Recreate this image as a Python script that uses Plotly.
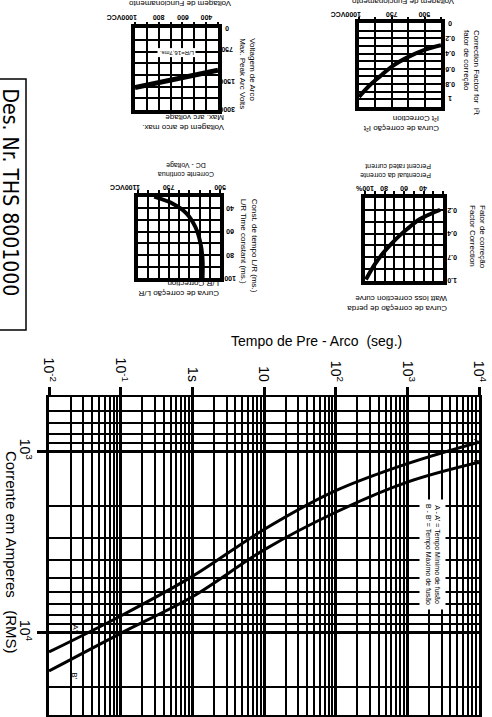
import numpy as np
import plotly.graph_objects as go

W, H = 492, 717
FONT = "Liberation Sans, Arial, Helvetica, sans-serif"
NARROW = "Liberation Sans Narrow, DejaVu Sans Condensed, Liberation Sans, Arial"

# ---- main chart: pre-arcing time vs current ----
TIME_S = [0.01, 0.1, 1, 10, 100, 1000, 10000]
CURVE_A_AMPS = [12800, 8100, 4900, 2700, 1650, 1170, 890]
CURVE_B_AMPS = [16300, 10100, 6350, 3500, 2170, 1480, 1150]
TIME_TICKS = [0.01, 0.1, 1, 10, 100, 1000, 10000]
TIME_TICK_TEXT = ["10<sup>-2</sup>", "10<sup>-1</sup>", "1s", "10",
                  "10<sup>2</sup>", "10<sup>3</sup>", "10<sup>4</sup>"]
AMP_TICKS = [1000, 10000]
AMP_TICK_TEXT = ["10<sup>3</sup>", "10<sup>4</sup>"]
AMP_RANGE = [500, 28500]
LEGEND_TEXT = "A - A' = Tempo Mínimo de fusão<br>B - B' = Tempo Máximo de fusão"

# ---- inset 1: max. arc voltage ----
ARC_X_TICKS = [1000, 800, 600, 400]
ARC_X_TEXT = ["1000VCC", "800", "600", "400"]
ARC_Y_TICKS = [0, 750, 1500, 3000]
ARC_Y_TEXT = ["0", "750", "1500", "3000"]
ARC_Y_ROWS = [0, 1.8, 4.5, 7]
ARC_LINE_V = [1000, 300]
ARC_LINE_PEAK = [1850, 1250]

# ---- inset 2: I2t correction ----
I2T_X_TICKS = [1000, 750, 500]
I2T_X_TEXT = ["1000VCC", "750", "500"]
I2T_Y_TICKS = [0, 0.2, 0.4, 0.6, 0.8, 1]
I2T_Y_TEXT = ["0", "0.2", "0.4", "0.6", "0.8", "1"]
I2T_V = [1000, 920, 840, 750, 620, 500, 375]
I2T_F = [0.97, 0.82, 0.70, 0.57, 0.44, 0.35, 0.29]

# ---- inset 3: L/R correction ----
LR_X_TICKS = [1100, 750, 500]
LR_X_TEXT = ["1100VCC", "750", "500"]
LR_X_COLS = [0, 3, 8]
LR_Y_TICKS = [40, 60, 80, 100]
LR_V = [915, 730, 665, 620, 595, 585, 585]
LR_MS = [30, 36, 44, 56, 70, 84, 100]

# ---- inset 4: watt loss correction ----
WL_X_TICKS = [100, 80, 60, 40]
WL_X_TEXT = ["100%", "80", "60", "40"]
WL_Y_TICKS = [0.2, 0.4, 0.7, 1.0]
WL_Y_TEXT = ["0.2", "0.4", "0.7", "1.0"]
WL_Y_ROWS = [1, 3, 5, 7]
WL_PCT = [99, 90, 81, 73, 64, 55, 46, 37, 29, 23]
WL_F = [0.98, 0.79, 0.64, 0.53, 0.42, 0.35, 0.29, 0.25, 0.22, 0.20]


def to_div(vals, ticks, divs):
    # piecewise scale of the hand-drawn inset axes
    order = np.argsort(ticks)
    return np.interp(vals, np.array(ticks, float)[order], np.array(divs, float)[order])


def px_x(px):
    return px / W


def px_y(py):
    return 1 - py / H


def font(size, bold=False, family=FONT):
    return dict(family=family, size=size, color="black", weight="bold" if bold else "normal")


def note(text, px, py, size=8, angle=0, xanchor="center", yanchor="middle", align="center", family=FONT, **kw):
    return dict(text=text, x=px_x(px), y=px_y(py), xref="paper", yref="paper", showarrow=False,
                textangle=angle, xanchor=xanchor, yanchor=yanchor, align=align, font=font(size, family=family), **kw)


fig = go.Figure()

# main curves
for amps in (CURVE_A_AMPS, CURVE_B_AMPS):
    fig.add_trace(go.Scatter(x=TIME_S, y=amps, mode="lines", line=dict(color="black", width=3, shape="spline"),
                             xaxis="x", yaxis="y", hoverinfo="skip"))

# inset curves
fig.add_trace(go.Scatter(x=ARC_LINE_V, y=to_div(ARC_LINE_PEAK, ARC_Y_TICKS, ARC_Y_ROWS), mode="lines",
                         line=dict(color="black", width=5), xaxis="x2", yaxis="y2"))
fig.add_trace(go.Scatter(x=I2T_V, y=I2T_F, mode="lines", line=dict(color="black", width=4, shape="spline"),
                         xaxis="x3", yaxis="y3"))
fig.add_trace(go.Scatter(x=to_div(LR_V, LR_X_TICKS, LR_X_COLS), y=LR_MS, mode="lines",
                         line=dict(color="black", width=4, shape="spline"), xaxis="x4", yaxis="y4"))
fig.add_trace(go.Scatter(x=WL_PCT, y=to_div(WL_F, WL_Y_TICKS, WL_Y_ROWS), mode="lines",
                         line=dict(color="black", width=4, shape="spline"), xaxis="x5", yaxis="y5"))

time_minor = [k * 10.0 ** e for e in range(-2, 4) for k in range(2, 10)]
amp_minor = [k * 100 for k in range(5, 10)] + [k * 1000 for k in range(2, 10)] + [20000]

grid_main = dict(showgrid=True, gridcolor="black", zeroline=False, fixedrange=True, tickcolor="black")

layout = dict(
    width=W, height=H, template="none",
    margin=dict(l=0, r=0, t=0, b=0),
    paper_bgcolor="white", plot_bgcolor="white", showlegend=False,
    xaxis=dict(type="log", domain=[px_x(49), px_x(479)], range=[-2, 4], anchor="y", side="top",
               tickvals=TIME_TICKS, ticktext=TIME_TICK_TEXT, tickangle=90, tickfont=font(14),
               ticks="outside", ticklen=8, tickwidth=3.2, gridwidth=3.2,
               minor=dict(tickvals=time_minor, showgrid=True, gridcolor="black", gridwidth=1.8, ticks=""),
               showline=True, mirror=True, linecolor="black", linewidth=1.8, **grid_main),
    yaxis=dict(type="log", domain=[px_y(715), px_y(396.7)],
               range=[np.log10(AMP_RANGE[1]), np.log10(AMP_RANGE[0])], anchor="x",
               tickvals=AMP_TICKS, ticktext=AMP_TICK_TEXT, tickangle=90, tickfont=font(14),
               ticks="outside", ticklen=9, tickwidth=3.2, gridwidth=3.2,
               minor=dict(tickvals=amp_minor, showgrid=True, gridcolor="black", gridwidth=1.8, ticks=""),
               showline=True, mirror=True, linecolor="black", linewidth=3.2, **grid_main),
)


def inset_axes(n, xdom, ydom, xrange, yrange, dx, dy):
    common = dict(showgrid=True, gridcolor="black", gridwidth=1.5, zeroline=False, showline=True,
                  mirror=True, linecolor="black", linewidth=3.5, showticklabels=False, fixedrange=True,
                  tick0=0)
    layout[f"xaxis{n}"] = dict(domain=[px_x(xdom[0]), px_x(xdom[1])], range=xrange, dtick=dx, anchor=f"y{n}",
                               side="top", ticks="outside", ticklen=3, tickwidth=1.5, tickcolor="black", **common)
    layout[f"yaxis{n}"] = dict(domain=[px_y(ydom[1]), px_y(ydom[0])], range=yrange, dtick=dy, anchor=f"x{n}",
                               side="right", ticks="", **common)


inset_axes(2, (135, 218), (28.3, 110), [1000, 300], [7, 0], 100, 1)
inset_axes(3, (359, 441), (23.3, 106.7), [1000, 375], [1.1, 0], 125, 0.1)
inset_axes(4, (138, 220), (196.7, 278.3), [0, 8], [100, 30], 1, 10)
inset_axes(5, (365, 443), (198, 281), [100, 20], [7, 0], 10, 1)

ann = []


def x_labels(n, ticks, texts, yshift):
    for v, t in zip(ticks, texts):
        wide = len(t) > 4
        ann.append(dict(text=t, x=v, xref=f"x{n}", y=1, yref=f"y{n} domain", yshift=yshift, showarrow=False,
                        textangle=180, xanchor="right" if wide else "center", xshift=4 if wide else 0,
                        yanchor="middle", font=font(7, True)))


def y_labels(n, ticks, texts, xshift):
    for v, t in zip(ticks, texts):
        ann.append(dict(text=t, x=1, xref=f"x{n} domain", y=v, yref=f"y{n}", xshift=xshift, showarrow=False,
                        textangle=180, xanchor="center", yanchor="middle", font=font(7, True)))


x_labels(2, ARC_X_TICKS, ARC_X_TEXT, 11)
y_labels(2, to_div(ARC_Y_TICKS, ARC_Y_TICKS, ARC_Y_ROWS), ARC_Y_TEXT, 9)
x_labels(3, I2T_X_TICKS, I2T_X_TEXT, 9)
y_labels(3, I2T_Y_TICKS, I2T_Y_TEXT, 9)
x_labels(4, to_div(LR_X_TICKS, LR_X_TICKS, LR_X_COLS), LR_X_TEXT, 9)
y_labels(4, LR_Y_TICKS, [str(v) for v in LR_Y_TICKS], 10)
x_labels(5, WL_X_TICKS, WL_X_TEXT, 10)
y_labels(5, to_div(WL_Y_TICKS, WL_Y_TICKS, WL_Y_ROWS), WL_Y_TEXT, 9)

# inset titles (drawing is printed upside down)
ann += [
    note("Voltagem de Funcionamento", 180, 4, 8, 180),
    note("Voltagem de Arco<br>Max. Peak Arc Volts", 248, 36.7, 8, 90, yanchor="top", align="left"),
    note("Voltagem de arco max.<br>Max. arc voltage", 226.5, 122.5, 8, 180, xanchor="right", align="left"),
    note("L/R=16,7ms.", 177, 52.3, 6, 180, bgcolor="white"),
    note("Voltagem de Funcionamento", 403, 1.5, 8, 180),
    note("Correction Factor for  I²t<br>fator de correção", 472, 28, 8, 90, yanchor="top", align="left"),
    note("Curva de correção I²t<br>I²t Correction", 441, 123, 8, 180, xanchor="right", align="left"),
    note("Corrente contínua<br>DC - Voltage", 186, 170, 7, 180),
    note("Const. de tempo L/R (ms.)<br>L/R Time constant (ms.)", 249, 196.7, 8, 90, yanchor="top", align="left"),
    note("Curva de correção L/R<br>L/R Correction", 221, 288, 8, 180, xanchor="right", align="left"),
    note("Percentual da corrente<br>Percent rated current", 433, 171, 7, 180, xanchor="right", align="left"),
    note("Fator de correção<br>Factor Correction", 478, 203, 8, 90, yanchor="top", align="left"),
    note("Curva de correção de perda<br>Watt loss correction curve", 449, 304, 8, 180, xanchor="right", align="left"),
]

# main chart texts
ann += [
    note("Tempo de Pre - Arco \u00a0(seg.)", 316, 341, 14),
    note("Corrente em Amperes \u00a0\u00a0(RMS)", 12, 552, 15, 90),
    note("Des. Nr. THS 8001000", 9, 192.5, 21, 90, family=NARROW),
    note(LEGEND_TEXT, 433, 554, 7, 90, bgcolor="white", borderpad=4),
    dict(text="A", x=px_x(484), xref="paper", y=np.log10(CURVE_A_AMPS[-1]), yref="y", showarrow=False,
         textangle=90, font=font(9)),
    dict(text="B", x=px_x(484), xref="paper", y=np.log10(CURVE_B_AMPS[-1]), yref="y", showarrow=False,
         textangle=90, font=font(9)),
    dict(text="A'", x=np.log10(0.0231), xref="x", y=np.log10(9400), yref="y", showarrow=False,
         textangle=90, font=font(8)),
    dict(text="B'", x=np.log10(0.0231), xref="x", y=np.log10(17200), yref="y", showarrow=False,
         textangle=90, font=font(8)),
]

layout["annotations"] = ann
layout["shapes"] = [dict(type="rect", xref="paper", yref="paper", x0=px_x(-3), x1=px_x(26),
                         y0=px_y(330), y1=px_y(79), line=dict(color="black", width=1.5))]
layout["font"] = font(10)

fig.update_layout(**layout)
# the page's default 8px body margin would shift the whole drawing
fig.write_html("out.html", config={"displayModeBar": False},
               post_script="document.body.style.margin='0';")
